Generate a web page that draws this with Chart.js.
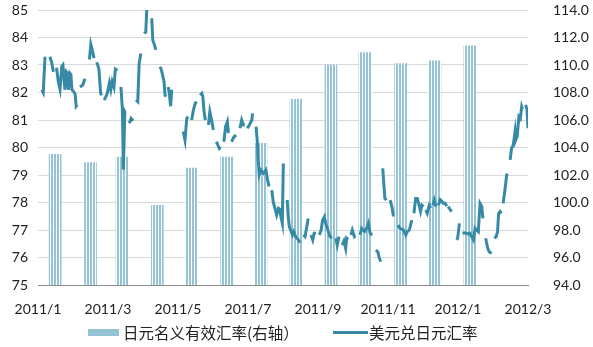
<!DOCTYPE html>
<html>
<head>
<meta charset="utf-8">
<script src="https://cdn.jsdelivr.net/npm/chart.js@4"></script>
<style>
  html, body { margin: 0; padding: 0; background: #fff; }
  #wrap { position: relative; width: 593px; height: 347px; }
  #legend { position: absolute; left: 0; top: 321px; width: 593px; height: 22px;
            font-family: "Noto Sans CJK SC", Lato, sans-serif; font-size: 15.5px; color: #222; }
  #legend span { position: absolute; }
</style>
</head>
<body>
<div id="wrap">
  <canvas id="chart" width="593" height="347"></canvas>
  <div id="legend">
    <span style="left:88px; top:8px; width:31px; height:7px; background:#93c3d5;"></span>
    <span style="left:123px; top:0; line-height:22px;">日元名义有效汇率(右轴）</span>
    <span style="left:333px; top:10px; width:35px; height:3px; background:#378aa5;"></span>
    <span style="left:369px; top:0; line-height:22px;">美元兑日元汇率</span>
  </div>
</div>
<script>
// x axis runs in months counted from 2011/1 (0) to 2012/3 (14)
var tickLabels = ['2011/1', '2011/3', '2011/5', '2011/7', '2011/9', '2011/11', '2012/1', '2012/3'];

// yen nominal effective exchange rate, one bar per month (right axis)
var neerPos = [0.49, 1.50, 2.40, 3.41, 4.39, 5.39, 6.37, 7.37, 8.37, 9.34, 10.36, 11.34, 12.34];
var neerValues = [103.5, 102.9, 103.3, 99.8, 102.5, 103.3, 104.3, 107.5, 110.0, 110.9, 110.1, 110.3, 111.4];

// USD/JPY daily close, split where the series has holes (left axis)
var usdJpySegments = [
  [[0.11,82.1],[0.15,82.0],[0.20,83.3]],
  [[0.34,83.3],[0.39,83.1],[0.44,82.75]],
  [[0.53,82.9],[0.58,82.4],[0.63,82.12],[0.68,82.95],[0.71,83.0],[0.77,82.1],[0.81,82.75],[0.84,82.7],[0.87,82.1],[0.91,82.7],[0.94,82.65],[0.97,82.1],[1.01,82.05],[1.06,81.95],[1.09,81.5],[1.12,81.55]],
  [[1.20,82.2],[1.28,82.27],[1.34,82.5]],
  [[1.47,83.2],[1.51,83.75],[1.56,83.5],[1.60,83.25]],
  [[1.68,83.1],[1.74,82.85],[1.79,81.97],[1.82,81.9]],
  [[1.89,81.73],[1.94,81.85],[1.98,81.97],[2.04,82.35],[2.08,82.1],[2.12,82.4],[2.17,82.2],[2.21,82.85],[2.27,82.8]],
  [[2.37,82.2],[2.41,81.4],[2.44,79.2],[2.48,81.3],[2.50,81.25]],
  [[2.61,80.88],[2.66,81.06],[2.72,80.97]],
  [[2.80,81.73],[2.85,81.67],[2.89,83.06],[2.94,83.42]],
  [[3.03,84.15],[3.08,84.2],[3.11,85.1]],
  [[3.25,84.7],[3.28,83.9],[3.31,83.8],[3.37,83.55]],
  [[3.49,82.94],[3.53,82.8],[3.60,82.4],[3.63,81.9],[3.66,81.85]],
  [[3.72,82.2],[3.75,81.97],[3.79,81.5],[3.82,82.1]],
  [[4.15,80.58],[4.20,80.27],[4.25,81.06],[4.29,81.12]],
  [[4.39,81.0],[4.44,81.36],[4.49,81.6],[4.53,81.67]],
  [[4.63,81.9],[4.68,81.97],[4.71,81.85],[4.74,81.36],[4.78,81.0]],
  [[4.87,80.82],[4.91,81.3],[4.96,81.0],[5.01,80.64]],
  [[5.09,80.21],[5.12,80.15],[5.18,79.97],[5.22,80.03]],
  [[5.31,80.21],[5.36,80.76],[5.41,80.94],[5.44,80.52]],
  [[5.53,80.21],[5.60,80.39],[5.66,80.45]],
  [[5.77,80.7],[5.82,81.0],[5.87,80.82],[5.91,80.82]],
  [[5.98,80.7],[6.04,80.82],[6.11,81.0],[6.13,81.24]],
  [[6.23,80.76],[6.27,80.15],[6.29,79.55],[6.32,79.0],[6.37,79.18],[6.44,79.06],[6.51,79.18],[6.56,78.82],[6.60,78.58]],
  [[6.68,78.45],[6.72,78.03],[6.77,77.79],[6.82,77.55],[6.87,77.79],[6.91,77.75],[6.94,77.48],[6.98,77.24],[7.01,79.42]],
  [[7.12,78.09],[7.15,77.48],[7.18,77.12],[7.22,77.0],[7.27,76.82],[7.31,76.94],[7.36,76.76],[7.44,76.64],[7.49,76.54]],
  [[7.58,76.82],[7.63,76.76],[7.68,77.12],[7.72,77.42]],
  [[7.80,76.82],[7.85,76.64],[7.89,76.88],[7.94,76.88]],
  [[8.04,76.82],[8.09,77.0],[8.13,77.36],[8.18,77.48],[8.22,77.24],[8.28,77.0],[8.33,76.8],[8.39,76.7]],
  [[8.51,76.7],[8.55,76.45],[8.60,76.76]],
  [[8.69,76.45],[8.74,76.6],[8.79,76.33],[8.82,76.7],[8.86,76.65]],
  [[8.94,76.82],[8.98,77.0],[9.04,76.76],[9.07,76.8]],
  [[9.20,76.82],[9.25,77.06],[9.29,77.0],[9.34,76.95],[9.39,77.06],[9.44,77.24],[9.49,76.88],[9.55,76.82]],
  [[9.65,76.27],[9.71,76.21],[9.74,76.03],[9.79,75.85]],
  [[9.85,79.24],[9.91,78.15],[9.96,78.09]],
  [[10.06,78.09],[10.11,77.85],[10.15,77.55],[10.19,77.55]],
  [[10.29,77.18],[10.34,77.06],[10.44,77.0],[10.51,76.82],[10.55,76.94],[10.61,77.0],[10.68,77.36]],
  [[10.74,77.61],[10.79,78.15],[10.84,78.15],[10.87,78.0],[10.93,77.67],[10.97,77.9],[11.01,77.85]],
  [[11.08,77.73],[11.12,77.61],[11.18,77.9],[11.22,77.8]],
  [[11.28,77.9],[11.32,78.09],[11.37,77.85]],
  [[11.44,77.9],[11.49,78.1],[11.53,78.05],[11.58,77.97],[11.63,77.97],[11.68,77.87]],
  [[11.72,77.85],[11.77,77.75],[11.82,77.67]],
  [[11.96,76.64],[11.99,76.7],[12.04,77.24]],
  [[12.13,76.88],[12.20,76.9],[12.25,76.88],[12.29,76.85],[12.34,76.88],[12.39,76.76],[12.44,76.64],[12.49,77.06],[12.53,77.0],[12.58,76.94],[12.63,77.97],[12.68,77.85],[12.71,77.42]],
  [[12.79,76.7],[12.85,76.33],[12.89,76.21],[12.96,76.15]],
  [[13.04,76.7],[13.09,76.76],[13.13,76.94],[13.16,77.6],[13.20,77.67],[13.24,77.6]],
  [[13.29,77.97],[13.34,78.45],[13.39,79.0],[13.41,79.05]],
  [[13.49,79.55],[13.53,79.97],[13.58,80.09],[13.63,80.58],[13.65,80.27],[13.69,80.4],[13.74,81.12],[13.78,81.05],[13.82,81.48],[13.84,81.4]],
  [[13.93,81.55],[13.97,81.4],[14.0,80.7]]
];

var lineColor = '#378aa5';
var barColor = '#93c3d5';
var font = { family: 'Lato, "Noto Sans CJK SC", sans-serif', size: 14 };

// flatten the segments, a null point between two segments breaks the line
var linePoints = [];
for (var i = 0; i < usdJpySegments.length; i++) {
    if (i > 0) linePoints.push({ x: (usdJpySegments[i - 1].slice(-1)[0][0] + usdJpySegments[i][0][0]) / 2, y: null });
    for (var j = 0; j < usdJpySegments[i].length; j++) {
        linePoints.push({ x: usdJpySegments[i][j][0], y: usdJpySegments[i][j][1] });
    }
}

var barPoints = neerPos.map(function(p, k) { return { x: p, y: neerValues[k] }; });

// thin vertical stripes for the bars
function stripePattern() {
    var c = document.createElement('canvas');
    c.width = 3; c.height = 4;
    var g = c.getContext('2d');
    g.fillStyle = '#ffffff';
    g.fillRect(0, 0, 3, 4);
    g.fillStyle = barColor;
    g.fillRect(0, 0, 2, 4);
    return g.createPattern(c, 'repeat');
}

// keep edge labels from pushing the plot area inwards
function noEdgePadding(s) {
    s.paddingLeft = 0; s.paddingRight = 0;
    s.paddingTop = 0; s.paddingBottom = 0;
}

var ctx = document.getElementById('chart').getContext('2d');
new Chart(ctx, {
    data: {
        datasets: [{
            type: 'line',
            label: '美元兑日元汇率',
            data: linePoints,
            yAxisID: 'y',
            borderColor: lineColor,
            borderWidth: 3,
            pointRadius: 0,
            tension: 0,
            spanGaps: false,
            order: 0
        }, {
            type: 'bar',
            label: '日元名义有效汇率(右轴）',
            data: barPoints,
            yAxisID: 'y1',
            backgroundColor: stripePattern(),
            barThickness: 12,
            order: 1
        }]
    },
    options: {
        responsive: false,
        animation: false,
        layout: { padding: { top: 10, left: 0, right: 0, bottom: 0 } },
        plugins: { legend: { display: false }, tooltip: { enabled: false } },
        scales: {
            x: {
                type: 'linear',
                offset: false,
                min: 0, max: 14,
                grid: { display: false, offset: false },
                border: { display: true, color: '#8c8c8c', width: 1 },
                ticks: {
                    stepSize: 2, autoSkip: false, maxRotation: 0, padding: 8,
                    color: '#222', font: font,
                    callback: function(v) { return tickLabels[v / 2]; }
                },
                afterFit: function(s) { s.height = 62; noEdgePadding(s); }
            },
            y: {
                position: 'left',
                min: 75, max: 85,
                grid: { color: '#d9d9d9', drawTicks: false },
                border: { display: false },
                ticks: { stepSize: 1, padding: 10, color: '#222', font: font },
                afterFit: function(s) { s.width = 38; noEdgePadding(s); }
            },
            y1: {
                position: 'right',
                min: 94, max: 114,
                grid: { display: false },
                border: { display: false },
                ticks: {
                    stepSize: 2, padding: 17, color: '#222', font: font,
                    callback: function(v) { return v.toFixed(1); }
                },
                afterFit: function(s) { s.width = 65; noEdgePadding(s); }
            }
        }
    }
});
</script>
</body>
</html>
